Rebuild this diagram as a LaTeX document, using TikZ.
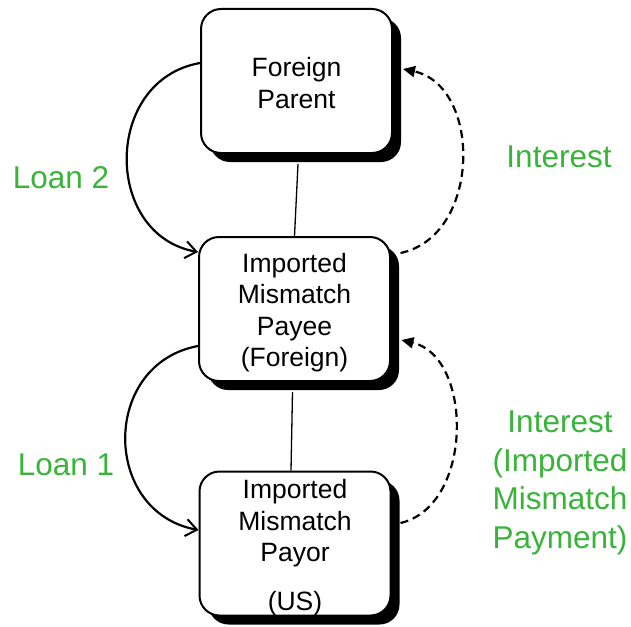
\documentclass[tikz,border=0pt]{standalone}
\usepackage{fontspec}
\setmainfont{Liberation Sans}
\usetikzlibrary{arrows.meta,shadows}
\definecolor{labelgreen}{RGB}{56,180,58}
\begin{document}
\begin{tikzpicture}[x=1pt,y=-1pt,
  entity/.style={draw, line width=2pt, fill=white, rounded corners=20pt,
    minimum width=191pt, minimum height=144pt, inner sep=0pt,
    drop shadow={shadow xshift=9pt, shadow yshift=-9pt, fill=black, opacity=1}},
  caption/.style={align=center, inner sep=0pt, font=\fontsize{26.5}{31.3}\selectfont},
  link/.style={line width=1.3pt},
  loan/.style={line width=2.2pt, -{Straight Barb[length=11pt,width=17pt,line width=2pt]}},
  interest/.style={line width=2.2pt, dash pattern=on 8pt off 5pt,
    -{Triangle[length=12pt,width=11pt]}},
  tag/.style={text=labelgreen, align=center, font=\fontsize{31.5}{38.5}\selectfont}]
\useasboundingbox (0,0) rectangle (631,626);

% entities
\node[entity] (fp) at (296.5,81) {};
\node[entity] (mp) at (294.5,309) {};
\node[entity] (py) at (295,543.5) {};
\node[caption] (fptext) at ([yshift=-2pt]fp.center) {Foreign\\Parent};
\node[caption] (mptext) at ([yshift=-3.5pt]mp.center) {Imported\\Mismatch\\Payee\\(Foreign)};
\node[caption] (pytext) at ([yshift=-4.5pt]py.center) {Imported\\Mismatch\\Payor\\[18pt](US)};

% ownership links
\draw[link] ([xshift=1.5pt,yshift=-10pt]fp.south) -- (mp.north);
\draw[link] ([xshift=-2pt,yshift=-10pt]mp.south) -- ([xshift=-4pt]py.north);

% loans
\draw[loan] ([yshift=18pt]fp.west) .. controls +(-97,17) and +(-95,-17) .. ([yshift=57pt]mp.west);
\draw[loan] ([yshift=-37pt]mp.west) .. controls +(-97,18) and +(-97,-18) .. ([yshift=13.5pt]py.west);

% interest payments
\draw[interest] ([xshift=9.5pt,yshift=56pt]mp.east) .. controls +(81,-17) and +(79,17) .. ([xshift=10pt,yshift=12pt]fp.east);
\draw[interest] ([xshift=9pt,yshift=20.5pt]py.east) .. controls +(73,-17) and +(72,17) .. ([xshift=10.5pt,yshift=-31pt]mp.east);

% labels
\node[tag] (l2) at (61,177.5) {Loan 2};
\node[tag] (i1) at (559,157) {Interest};
\node[tag] (l1) at (66,464.5) {Loan 1};
\node[tag] (i2) at (560,483) {Interest\\(Imported\\Mismatch\\Payment)};
\end{tikzpicture}
\end{document}
